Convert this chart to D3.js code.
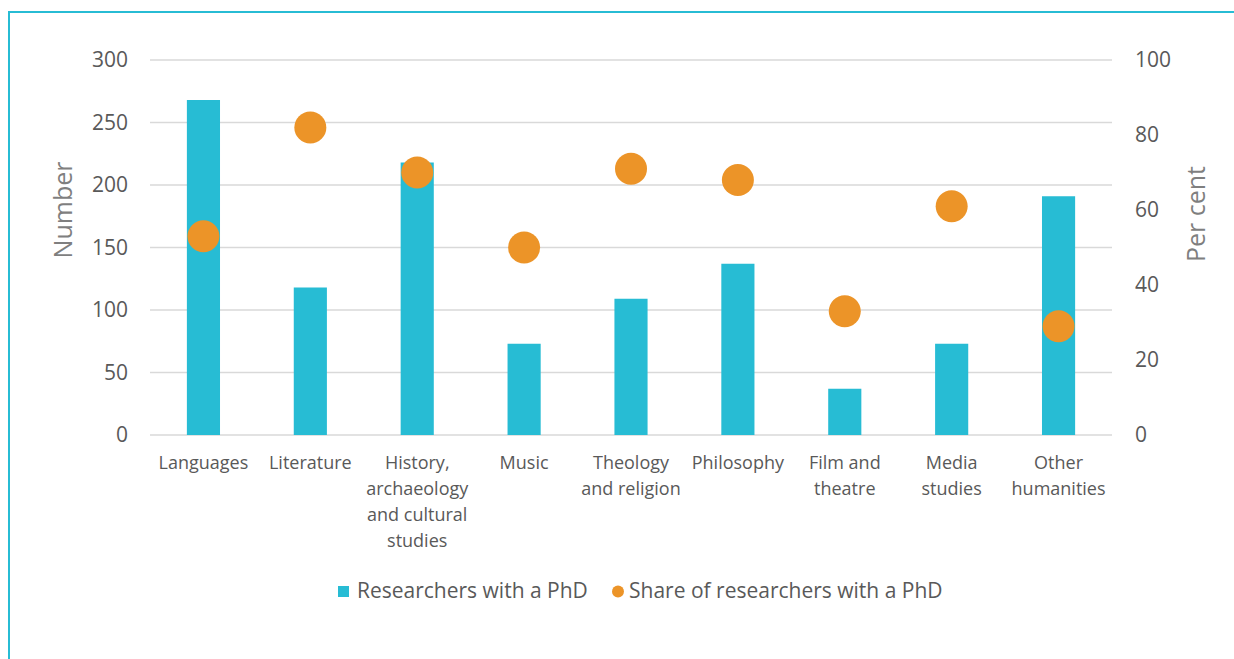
<!DOCTYPE html>
<html>
<head>
<meta charset="utf-8">
<script src="https://cdn.jsdelivr.net/npm/d3@7"></script>
<style>
  body { margin: 0; background: #fff; }
  text { font-family: "Open Sans", sans-serif; }
</style>
</head>
<body>
<script>
// chart data
var categories = ["Languages", "Literature", "History, archaeology and cultural studies", "Music",
    "Theology and religion", "Philosophy", "Film and theatre", "Media studies", "Other humanities"];
var researchers = [268, 118, 218, 73, 109, 137, 37, 73, 191];
var sharePhd = [53, 82, 70, 50, 71, 68, 33, 61, 29];
var leftTicks = [0, 50, 100, 150, 200, 250, 300];
var rightTicks = [0, 20, 40, 60, 80, 100];
var seriesNames = ["Researchers with a PhD", "Share of researchers with a PhD"];

var W = 1234, H = 659;
var margin = { top: 60, right: 122, bottom: 224, left: 150 };
var blue = "#27bcd4", orange = "#ec9428";

var svg = d3.select("body").append("svg")
    .attr("width", W)
    .attr("height", H);

// outer frame (right and bottom edges fall outside the picture)
svg.append("rect")
    .attr("x", 9).attr("y", 12)
    .attr("width", 1300).attr("height", 700)
    .attr("fill", "none")
    .attr("stroke", blue)
    .attr("stroke-width", 2);

// scales
var x = d3.scaleBand()
    .domain(categories)
    .range([margin.left, W - margin.right])
    .paddingInner(0.69)
    .paddingOuter(0.345);

var y = d3.scaleLinear().domain([0, 300]).range([H - margin.bottom, margin.top]);
var y2 = d3.scaleLinear().domain([0, 100]).range([H - margin.bottom, margin.top]);

// gridlines
svg.append("g")
    .selectAll("line")
    .data(leftTicks)
    .enter().append("line")
    .attr("x1", margin.left).attr("x2", W - margin.right)
    .attr("y1", function (d) { return y(d); })
    .attr("y2", function (d) { return y(d); })
    .attr("stroke", "#d9d9d9")
    .attr("stroke-width", 1.5);

// left axis
var leftAxis = svg.append("g")
    .attr("transform", "translate(" + (margin.left - 22) + ",0)")
    .call(d3.axisLeft(y).tickValues(leftTicks).tickSize(0).tickPadding(0));
leftAxis.select(".domain").remove();
leftAxis.selectAll("text")
    .attr("fill", "#595959")
    .style("font-size", "21px");

// right axis
var rightAxis = svg.append("g")
    .attr("transform", "translate(" + (W - margin.right + 23) + ",0)")
    .call(d3.axisRight(y2).tickValues(rightTicks).tickSize(0).tickPadding(0));
rightAxis.select(".domain").remove();
rightAxis.selectAll("text")
    .attr("fill", "#595959")
    .style("font-size", "21px");

// axis titles
svg.append("text")
    .attr("transform", "translate(72,210) rotate(-90)")
    .attr("text-anchor", "middle")
    .attr("fill", "#7f7f7f")
    .style("font-size", "25px")
    .text("Number");

svg.append("text")
    .attr("transform", "translate(1205,214) rotate(-90)")
    .attr("text-anchor", "middle")
    .attr("fill", "#7f7f7f")
    .style("font-size", "25px")
    .text("Per cent");

// bars
svg.append("g")
    .selectAll("rect")
    .data(researchers)
    .enter().append("rect")
    .attr("x", function (d, i) { return x(categories[i]); })
    .attr("y", function (d) { return y(d); })
    .attr("width", x.bandwidth())
    .attr("height", function (d) { return y(0) - y(d); })
    .attr("fill", blue);

// dots
svg.append("g")
    .selectAll("circle")
    .data(sharePhd)
    .enter().append("circle")
    .attr("cx", function (d, i) { return x(categories[i]) + x.bandwidth() / 2; })
    .attr("cy", function (d) { return y2(d); })
    .attr("r", 16)
    .attr("fill", orange);

// category labels (wrapped)
var step = x.step();
var labels = svg.append("g")
    .selectAll("text")
    .data(categories)
    .enter().append("text")
    .attr("x", function (d) { return x(d) + x.bandwidth() / 2; })
    .attr("y", H - margin.bottom + 34)
    .attr("text-anchor", "middle")
    .attr("fill", "#595959")
    .style("font-size", "18px");

labels.each(function (d) {
    var t = d3.select(this), cx = t.attr("x");
    var words = d.split(" "), line = [];
    var tspan = t.append("tspan").attr("x", cx).attr("dy", 0);
    words.forEach(function (w) {
        line.push(w);
        tspan.text(line.join(" "));
        if (tspan.node().getComputedTextLength() > step - 2 && line.length > 1) {
            line.pop();
            tspan.text(line.join(" "));
            line = [w];
            tspan = t.append("tspan").attr("x", cx).attr("dy", 26).text(w);
        }
    });
});

// legend
var legend = svg.append("g");
legend.append("rect")
    .attr("x", 338).attr("y", 586)
    .attr("width", 11).attr("height", 11)
    .attr("fill", blue);
legend.append("text")
    .attr("x", 357).attr("y", 598)
    .attr("fill", "#595959")
    .style("font-size", "21px")
    .text(seriesNames[0]);
legend.append("circle")
    .attr("cx", 618).attr("cy", 591.5)
    .attr("r", 6)
    .attr("fill", orange);
legend.append("text")
    .attr("x", 629).attr("y", 598)
    .attr("fill", "#595959")
    .style("font-size", "21px")
    .text(seriesNames[1]);
</script>
</body>
</html>
